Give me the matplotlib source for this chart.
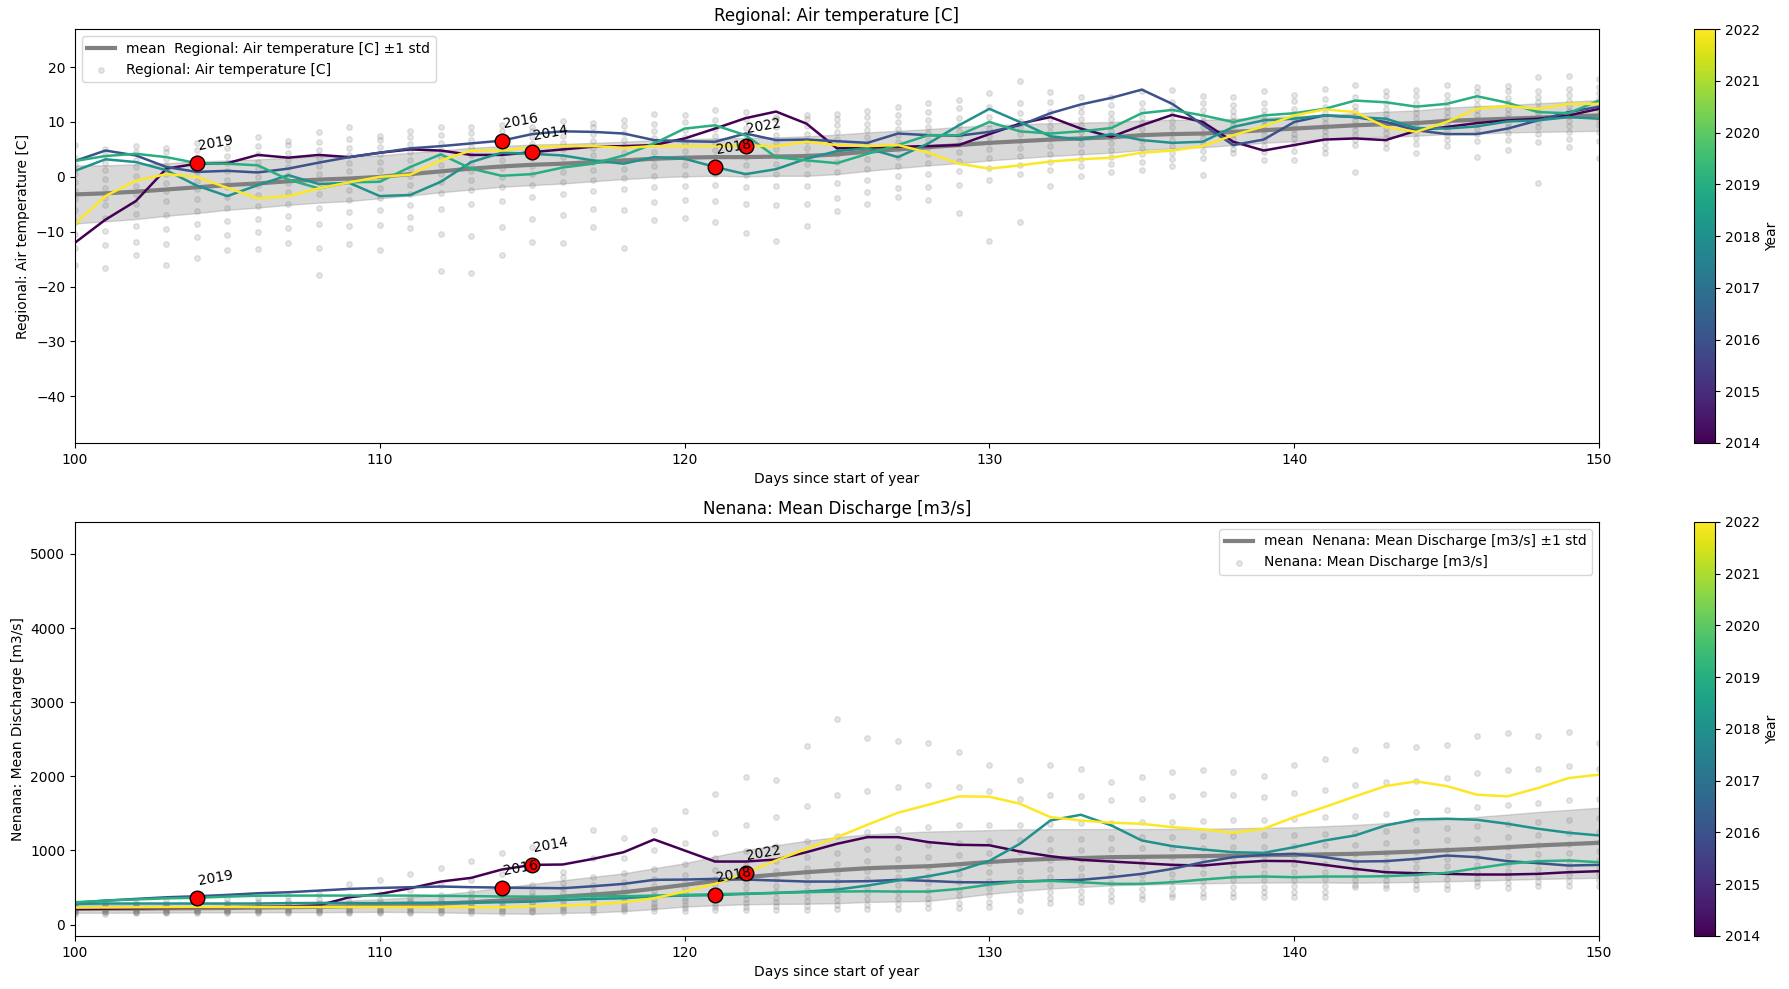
import numpy as np
import matplotlib
matplotlib.use("Agg")
import matplotlib.pyplot as plt
from matplotlib.colors import Normalize
from matplotlib.cm import ScalarMappable

# ---------------------
# DATA
# ---------------------
days = list(range(100, 151))
years = [2014, 2016, 2018, 2019, 2022]
event_days = [115, 114, 121, 104, 122]   # red marker per year

temp_name = "Regional: Air temperature [C]"
flow_name = "Nenana: Mean Discharge [m3/s]"

# climatology, days 100..150
temp_mean = [-3.2, -3.0, -2.7, -2.3, -1.9, -1.5, -1.2, -0.8, -0.5, -0.3, 0.0, 0.5, 1.0, 1.5, 1.9, 2.2, 2.4,
             2.7, 3.0, 3.3, 3.5, 3.6, 3.6, 3.7, 3.8, 4.1, 4.6, 5.0, 5.4, 5.8, 6.2, 6.5, 6.8, 7.0, 7.2, 7.6,
             7.8, 7.9, 8.2, 8.5, 8.8, 9.1, 9.4, 9.6, 9.8, 10.2, 10.4, 10.6, 10.8, 11.0, 11.2]
temp_std = [5.3, 5.1, 5.0, 4.8, 4.7, 4.5, 4.4, 4.3, 4.2, 4.1, 3.9, 3.9, 3.8, 3.8, 3.7, 3.7, 3.6, 3.5, 3.4,
            3.4, 3.4, 3.4, 3.5, 3.5, 3.6, 3.6, 3.5, 3.4, 3.3, 3.3, 3.2, 3.1, 3.0, 2.9, 2.8, 2.7, 2.6, 2.5,
            2.4, 2.3, 2.3, 2.2, 2.2, 2.3, 2.3, 2.4, 2.5, 2.5, 2.6, 2.7, 2.8]

flow_mean = [215, 215, 217, 220, 222, 225, 230, 235, 240, 248, 257, 270, 285, 302, 325, 347, 378, 405, 437,
             485, 536, 590, 640, 675, 707, 735, 761, 775, 788, 815, 845, 870, 887, 898, 910, 915, 919, 925,
             932, 937, 941, 948, 955, 970, 986, 1005, 1023, 1045, 1068, 1086, 1104]
flow_std = [55, 55, 56, 57, 58, 60, 63, 67, 72, 78, 85, 100, 120, 145, 175, 200, 220, 240, 255, 275, 292,
            330, 365, 395, 425, 446, 455, 462, 468, 450, 430, 415, 400, 390, 380, 375, 370, 368, 368, 370,
            372, 380, 390, 400, 410, 420, 430, 440, 452, 462, 473]

# selected years, days 100..150
temp_2014 = [-12.0, -7.8, -4.4, 1.5, 2.4, 2.5, 4.0, 3.5, 4.0, 3.6, 4.4, 5.0, 4.8, 4.0, 4.0, 4.5, 5.0, 5.5,
             5.6, 5.8, 7.0, 8.8, 10.7, 11.9, 9.7, 5.2, 5.3, 5.5, 5.6, 5.8, 7.8, 9.7, 10.9, 8.8, 7.3, 9.4,
             11.3, 10.0, 6.4, 4.8, 5.8, 6.8, 7.0, 6.7, 8.4, 9.1, 9.8, 10.3, 10.6, 11.2, 12.4]
temp_2016 = [2.9, 4.8, 3.9, 1.8, 0.9, 1.1, 0.8, 1.5, 2.6, 3.6, 4.4, 5.2, 5.6, 6.1, 6.6, 7.8, 8.3, 8.2, 7.9,
             6.7, 6.5, 6.4, 7.9, 6.7, 6.8, 6.5, 6.2, 7.9, 7.6, 7.5, 8.2, 9.4, 11.6, 13.2, 14.4, 15.9, 13.3,
             9.5, 5.8, 6.8, 10.0, 11.2, 10.9, 10.0, 8.5, 7.8, 7.8, 8.8, 10.3, 11.8, 12.8]
temp_2018 = [1.1, 3.2, 2.7, 1.2, -1.6, -3.5, -1.5, 0.3, -1.3, -1.1, -3.5, -3.3, -0.9, 2.7, 4.4, 4.2, 3.9,
             3.0, 2.4, 3.6, 3.3, 1.8, 0.5, 1.4, 3.3, 4.7, 5.2, 3.6, 6.1, 9.4, 12.4, 10.0, 7.4, 6.8, 7.8, 6.7,
             6.2, 6.4, 9.1, 10.3, 10.6, 11.2, 10.9, 10.6, 8.9, 8.8, 9.2, 10.1, 10.3, 10.9, 10.6]
temp_2019 = [2.9, 3.8, 4.2, 3.6, 2.5, 2.4, 2.1, -0.5, -2.1, -1.0, -0.9, 1.8, 4.1, 1.5, 0.2, 0.5, 1.7, 2.4,
             3.9, 6.1, 8.8, 9.4, 7.6, 3.6, 3.0, 2.5, 4.2, 5.8, 7.6, 7.6, 10.0, 8.3, 7.9, 8.3, 8.9, 11.6, 12.2,
             11.2, 10.0, 11.2, 11.6, 12.4, 13.9, 13.6, 12.8, 13.3, 14.7, 13.5, 11.8, 11.6, 13.9]
temp_2022 = [-8.6, -3.5, -0.7, 0.5, 0.0, -2.0, -3.9, -3.5, -2.1, -1.0, 0.0, 0.4, 3.0, 4.8, 4.8, 5.4, 5.6,
             5.6, 5.3, 5.6, 5.6, 5.6, 5.7, 5.6, 6.4, 5.8, 5.6, 5.8, 4.4, 2.4, 1.5, 2.1, 2.8, 3.2, 3.5, 4.4,
             4.8, 5.6, 7.6, 9.2, 11.2, 12.3, 11.8, 9.1, 8.2, 10.0, 12.4, 12.9, 12.4, 13.3, 13.3]

flow_2014 = [210, 215, 220, 225, 230, 235, 240, 245, 260, 369, 414, 491, 581, 631, 743, 806, 811, 887, 977,
             1149, 1000, 851, 851, 878, 977, 1090, 1180, 1180, 1113, 1077, 1070, 986, 923, 874, 851, 829,
             806, 797, 833, 860, 856, 806, 752, 707, 694, 685, 676, 676, 685, 707, 721]
flow_2016 = [293, 324, 347, 369, 383, 401, 423, 437, 459, 482, 495, 505, 514, 505, 500, 495, 491, 518, 550,
             604, 608, 617, 608, 595, 581, 581, 586, 604, 590, 572, 570, 581, 595, 604, 640, 685, 752, 842,
             910, 941, 955, 910, 851, 856, 887, 932, 910, 856, 829, 797, 806]
flow_2018 = [280, 285, 285, 285, 285, 285, 285, 290, 290, 290, 290, 295, 295, 298, 302, 311, 333, 347, 356,
             383, 392, 398, 414, 428, 446, 473, 527, 595, 653, 730, 860, 1090, 1405, 1482, 1338, 1135, 1059,
             1014, 977, 968, 1045, 1135, 1203, 1338, 1419, 1428, 1414, 1360, 1293, 1239, 1203]
flow_2019 = [302, 324, 340, 355, 362, 378, 390, 392, 392, 392, 392, 392, 388, 385, 380, 378, 378, 383, 383,
             392, 401, 410, 419, 428, 437, 446, 450, 446, 446, 482, 540, 581, 590, 572, 550, 550, 572, 608,
             640, 649, 640, 649, 649, 653, 671, 698, 761, 820, 856, 865, 842]
flow_2022 = [230, 232, 234, 235, 236, 237, 238, 238, 238, 238, 238, 238, 238, 236, 234, 248, 257, 270, 302,
             356, 446, 550, 698, 865, 1023, 1180, 1347, 1509, 1617, 1730, 1725, 1631, 1450, 1405, 1374, 1360,
             1315, 1284, 1239, 1293, 1450, 1586, 1730, 1869, 1932, 1869, 1752, 1730, 1842, 1977, 2023]

# all-years observations, one list per day 100..150
temp_obs = [
    [-16.1, -13.0, -10.5, -8.2, -6.0, -4.1, -2.5, -1.0, 0.6, 2.1, 3.5, 5.8],
    [-16.6, -12.4, -9.8, -7.5, -5.2, -3.8, -2.0, -0.4, 1.2, 2.6, 4.0, 5.1],
    [-14.3, -11.9, -9.0, -6.8, -4.9, -3.1, -1.6, 0.2, 1.8, 3.0, 4.5, 5.6],
    [-16.0, -12.2, -9.5, -7.0, -4.4, -2.6, -1.2, 0.5, 1.9, 3.3, 4.6, 5.3],
    [-14.8, -11.0, -8.6, -6.3, -4.0, -2.2, -0.8, 0.9, 2.3, 3.6, 4.9, 6.1],
    [-13.4, -10.6, -8.0, -5.7, -3.6, -1.9, -0.5, 1.1, 2.5, 3.8, 5.2, 7.0],
    [-13.2, -10.0, -7.7, -5.3, -3.3, -1.5, 0.0, 1.4, 2.8, 4.1, 5.6, 7.2],
    [-12.1, -9.4, -7.1, -4.9, -2.8, -1.2, 0.4, 1.8, 3.1, 4.4, 5.8, 6.6],
    [-17.9, -13.0, -8.5, -5.6, -3.2, -1.0, 0.6, 2.0, 3.4, 4.9, 6.4, 8.1],
    [-12.3, -9.0, -6.4, -4.2, -2.4, -0.7, 1.0, 2.5, 3.9, 5.3, 6.9, 9.1],
    [-13.4, -8.8, -6.1, -3.9, -2.0, -0.3, 1.3, 2.8, 4.2, 5.5, 6.8, 7.4],
    [-9.4, -7.3, -5.1, -3.2, -1.4, 0.2, 1.7, 3.1, 4.6, 5.9, 7.2, 8.3],
    [-17.1, -10.5, -5.8, -3.0, -1.0, 0.6, 2.1, 3.6, 4.9, 6.2, 7.6, 9.0],
    [-17.5, -10.8, -4.9, -2.4, -0.5, 1.1, 2.6, 4.0, 5.4, 6.7, 8.0, 9.0],
    [-14.3, -9.2, -4.4, -1.8, 0.0, 1.6, 3.0, 4.4, 5.7, 7.0, 8.3, 9.4],
    [-11.8, -7.6, -3.7, -1.4, 0.5, 2.0, 3.4, 4.8, 6.0, 7.3, 8.4, 9.0],
    [-12.0, -6.9, -3.2, -1.0, 0.8, 2.3, 3.7, 5.0, 6.2, 7.5, 8.8, 10.2],
    [-9.1, -5.9, -2.6, -0.5, 1.2, 2.7, 4.0, 5.3, 6.5, 7.8, 9.0, 9.8],
    [-13.0, -6.1, -2.3, -0.2, 1.5, 3.0, 4.3, 5.6, 6.8, 8.0, 9.2, 10.4],
    [-7.8, -4.6, -1.8, 0.2, 1.9, 3.3, 4.6, 5.9, 7.1, 8.3, 9.6, 11.4],
    [-7.5, -4.3, -1.6, 0.4, 2.1, 3.5, 4.8, 6.1, 7.3, 8.6, 10.0, 11.2],
    [-8.3, -4.4, -1.5, 0.5, 2.2, 3.6, 4.9, 6.2, 7.5, 8.8, 10.3, 12.1],
    [-10.3, -5.0, -1.8, 0.4, 2.2, 3.7, 5.0, 6.3, 7.6, 8.9, 10.5, 11.8],
    [-11.7, -5.2, -1.6, 0.5, 2.3, 3.8, 5.1, 6.4, 7.7, 9.0, 10.6, 11.0],
    [-8.9, -5.0, -1.6, 0.6, 2.4, 3.9, 5.3, 6.6, 7.9, 9.3, 10.5, 11.3],
    [-6.3, -3.8, -1.2, 0.9, 2.7, 4.2, 5.6, 6.9, 8.2, 9.4, 10.6, 11.4],
    [-4.9, -2.8, -0.5, 1.5, 3.2, 4.7, 6.0, 7.3, 8.5, 9.7, 10.9, 12.0],
    [-3.7, -2.0, 0.1, 2.0, 3.7, 5.1, 6.4, 7.6, 8.8, 10.0, 11.2, 12.8],
    [-4.3, -1.8, 0.6, 2.5, 4.1, 5.5, 6.8, 8.0, 9.1, 10.3, 11.8, 13.4],
    [-6.5, -1.4, 1.0, 2.9, 4.5, 5.9, 7.2, 8.3, 9.5, 10.8, 12.6, 14.0],
    [-11.7, -0.6, 1.6, 3.4, 5.0, 6.3, 7.5, 8.7, 9.8, 11.0, 12.7, 15.2],
    [-8.3, 0.6, 2.2, 3.8, 5.3, 6.6, 7.8, 9.0, 10.2, 11.6, 13.5, 17.5],
    [-1.7, 1.2, 2.8, 4.2, 5.6, 6.9, 8.1, 9.3, 10.5, 11.9, 13.6, 15.5],
    [0.2, 2.0, 3.3, 4.6, 5.9, 7.1, 8.2, 9.4, 10.6, 11.8, 13.0, 14.5],
    [0.8, 2.3, 3.6, 4.9, 6.1, 7.3, 8.4, 9.5, 10.6, 11.7, 13.1, 14.6],
    [1.2, 2.8, 4.1, 5.3, 6.5, 7.7, 8.8, 9.9, 11.0, 12.1, 13.5, 15.7],
    [1.9, 3.2, 4.4, 5.6, 6.8, 7.9, 9.0, 10.1, 11.2, 12.3, 13.6, 15.8],
    [0.4, 3.4, 4.7, 5.9, 7.0, 8.0, 9.1, 10.1, 11.1, 12.2, 13.4, 14.8],
    [4.4, 5.0, 5.9, 6.9, 7.8, 8.6, 9.4, 10.2, 11.1, 12.0, 13.1, 14.6],
    [3.0, 4.6, 5.7, 6.7, 7.6, 8.5, 9.4, 10.3, 11.2, 12.2, 13.5, 15.6],
    [3.1, 4.8, 6.0, 7.0, 7.9, 8.8, 9.7, 10.6, 11.5, 12.4, 13.9, 15.0],
    [4.3, 5.3, 6.4, 7.4, 8.3, 9.1, 9.9, 10.8, 11.7, 12.7, 14.2, 16.0],
    [0.8, 5.8, 6.8, 7.7, 8.6, 9.4, 10.2, 11.1, 12.0, 13.0, 14.6, 16.8],
    [5.2, 6.2, 7.1, 8.0, 8.9, 9.7, 10.5, 11.4, 12.3, 13.4, 14.8, 15.6],
    [4.4, 5.9, 7.0, 8.1, 9.0, 9.8, 10.7, 11.6, 12.5, 13.5, 14.8, 15.9],
    [5.7, 6.8, 7.7, 8.6, 9.4, 10.2, 11.0, 11.9, 12.8, 13.8, 15.0, 16.8],
    [3.6, 6.6, 7.8, 8.8, 9.6, 10.4, 11.3, 12.2, 13.1, 14.2, 15.4, 16.3],
    [4.9, 6.8, 8.0, 9.0, 9.9, 10.7, 11.5, 12.4, 13.4, 14.4, 15.6, 16.6],
    [-1.1, 6.4, 7.9, 9.0, 10.0, 10.9, 11.7, 12.6, 13.6, 14.6, 15.7, 18.2],
    [5.4, 6.9, 8.2, 9.3, 10.2, 11.1, 12.0, 12.9, 13.9, 14.9, 16.1, 18.3],
    [3.4, 6.6, 8.2, 9.4, 10.4, 11.3, 12.2, 13.2, 14.2, 15.2, 16.4, 17.8],
]
flow_obs = [
    [150, 165, 175, 185, 195, 205, 215, 225, 240, 255, 270, 285],
    [150, 165, 175, 185, 195, 205, 215, 228, 242, 258, 275, 300],
    [152, 166, 176, 186, 196, 207, 218, 230, 244, 260, 280, 310],
    [152, 167, 177, 187, 198, 209, 220, 232, 247, 263, 285, 320],
    [153, 168, 178, 189, 200, 211, 223, 236, 250, 268, 290, 335],
    [153, 168, 179, 190, 202, 214, 226, 239, 254, 272, 298, 345],
    [154, 169, 180, 192, 204, 217, 230, 244, 260, 280, 310, 360],
    [154, 170, 181, 194, 207, 220, 234, 249, 266, 288, 325, 380],
    [155, 170, 182, 196, 210, 224, 238, 254, 273, 297, 340, 420],
    [155, 171, 184, 198, 213, 228, 244, 262, 283, 310, 380, 550],
    [156, 172, 186, 201, 217, 234, 252, 272, 295, 330, 420, 604],
    [157, 174, 189, 206, 224, 243, 264, 288, 315, 360, 470, 680],
    [158, 176, 193, 212, 233, 255, 280, 307, 340, 395, 530, 761],
    [160, 179, 198, 219, 243, 270, 298, 330, 370, 440, 600, 856],
    [162, 183, 204, 228, 256, 287, 320, 358, 405, 490, 680, 964],
    [165, 188, 212, 240, 272, 308, 346, 390, 445, 540, 760, 1045],
    [170, 195, 222, 253, 290, 330, 374, 425, 490, 560, 640, 707],
    [175, 202, 232, 266, 306, 350, 398, 455, 530, 640, 900, 1270],
    [180, 210, 243, 280, 323, 372, 425, 488, 570, 690, 900, 1167],
    [185, 218, 255, 296, 343, 396, 455, 525, 615, 750, 1000, 1270],
    [190, 226, 267, 313, 365, 423, 490, 568, 670, 820, 1100, 1532],
    [192, 232, 278, 330, 390, 455, 530, 620, 735, 900, 1230, 1761],
    [195, 238, 290, 348, 415, 490, 575, 675, 800, 990, 1350, 1991],
    [198, 245, 302, 366, 440, 523, 615, 722, 860, 1060, 1450, 1946],
    [200, 252, 314, 385, 465, 555, 655, 770, 915, 1130, 1600, 2410],
    [205, 260, 327, 404, 490, 585, 692, 815, 970, 1200, 1750, 2779],
    [210, 268, 340, 422, 514, 614, 725, 855, 1015, 1250, 1800, 2518],
    [215, 277, 353, 440, 536, 640, 755, 890, 1050, 1290, 1850, 2477],
    [222, 287, 366, 456, 555, 662, 780, 915, 1080, 1320, 1880, 2450],
    [230, 298, 380, 472, 574, 685, 805, 940, 1105, 1340, 1850, 2329],
    [240, 310, 395, 490, 595, 708, 830, 965, 1125, 1350, 1800, 2158],
    [189, 330, 420, 515, 620, 730, 850, 985, 1140, 1350, 1700, 1955],
    [293, 360, 445, 540, 645, 755, 870, 1000, 1150, 1360, 1750, 2158],
    [302, 375, 460, 555, 658, 768, 882, 1010, 1160, 1370, 1740, 2104],
    [324, 390, 472, 565, 668, 777, 892, 1020, 1170, 1375, 1680, 1923],
    [347, 405, 485, 575, 676, 785, 900, 1028, 1178, 1380, 1700, 1991],
    [369, 418, 495, 584, 684, 792, 906, 1034, 1185, 1390, 1740, 2059],
    [369, 425, 502, 590, 690, 798, 912, 1040, 1192, 1400, 1760, 2090],
    [369, 430, 508, 596, 696, 804, 918, 1047, 1200, 1410, 1750, 2059],
    [369, 435, 513, 601, 700, 808, 923, 1052, 1206, 1415, 1720, 2000],
    [369, 440, 518, 606, 705, 813, 928, 1058, 1213, 1425, 1780, 2158],
    [369, 445, 524, 613, 713, 822, 938, 1070, 1228, 1445, 1820, 2239],
    [505, 540, 600, 670, 750, 840, 950, 1080, 1240, 1470, 1880, 2360],
    [490, 535, 600, 675, 760, 855, 965, 1095, 1260, 1495, 1920, 2419],
    [482, 535, 605, 685, 775, 872, 985, 1115, 1280, 1520, 1940, 2396],
    [485, 540, 612, 695, 788, 890, 1005, 1138, 1305, 1550, 1980, 2428],
    [527, 570, 635, 712, 802, 906, 1022, 1158, 1330, 1580, 2040, 2545],
    [490, 560, 640, 728, 822, 926, 1045, 1182, 1355, 1610, 2080, 2590],
    [527, 580, 655, 745, 842, 948, 1068, 1208, 1385, 1640, 2100, 2545],
    [527, 590, 668, 760, 860, 968, 1090, 1232, 1412, 1675, 2140, 2599],
    [527, 598, 680, 775, 877, 988, 1110, 1255, 1440, 1700, 2100, 2450],
]

temp_lines = [temp_2014, temp_2016, temp_2018, temp_2019, temp_2022]
flow_lines = [flow_2014, flow_2016, flow_2018, flow_2019, flow_2022]

# ---------------------
# PLOTTING
# ---------------------
cmap = plt.get_cmap('viridis')
norm = Normalize(vmin=2014, vmax=2022)


def draw_panel(ax, cax, name, mean, std, obs, lines, legend_loc, ylim):
    m = np.array(mean)
    s = np.array(std)
    ax.fill_between(days, m - s, m + s, color='gray', alpha=0.3)
    ax.plot(days, m, color='gray', lw=3, label=f'mean  {name} ±1 std')

    xs = [d for d, vals in zip(days, obs) for _ in vals]
    ys = [v for vals in obs for v in vals]
    ax.scatter(xs, ys, s=16, color='gray', alpha=0.2, label=name)

    for yr, vals, ev in zip(years, lines, event_days):
        ax.plot(days, vals, color=cmap(norm(yr)), lw=1.8)
        i = days.index(ev)
        ax.scatter(ev, vals[i], s=110, color='red', edgecolors='black', zorder=5)
        ax.annotate(str(yr), (ev, vals[i]), xytext=(0, 7), textcoords='offset points',
                    rotation=10, fontsize=10, ha='left', va='bottom', zorder=6)

    ax.set_xlim(100, 150)
    ax.set_ylim(*ylim)
    ax.set_xlabel("Days since start of year")
    ax.set_ylabel(name)
    ax.set_title(name)
    ax.legend(loc=legend_loc)

    sm = ScalarMappable(norm=norm, cmap=cmap)
    cb = plt.colorbar(sm, cax=cax, ticks=list(range(2014, 2023)))
    cb.set_label('Year')


fig = plt.figure(figsize=(17.89, 9.89), dpi=100)
ax1 = fig.add_axes([0.0419, 0.5521, 0.8519, 0.4183])
cax1 = fig.add_axes([0.9469, 0.5521, 0.0117, 0.4183])
ax2 = fig.add_axes([0.0419, 0.0536, 0.8519, 0.4186])
cax2 = fig.add_axes([0.9469, 0.0536, 0.0117, 0.4186])

draw_panel(ax1, cax1, temp_name, temp_mean, temp_std, temp_obs, temp_lines, 'upper left', (-48.5, 26.9))
draw_panel(ax2, cax2, flow_name, flow_mean, flow_std, flow_obs, flow_lines, 'upper right', (-153, 5430))

fig.savefig('out.png', dpi=100)
